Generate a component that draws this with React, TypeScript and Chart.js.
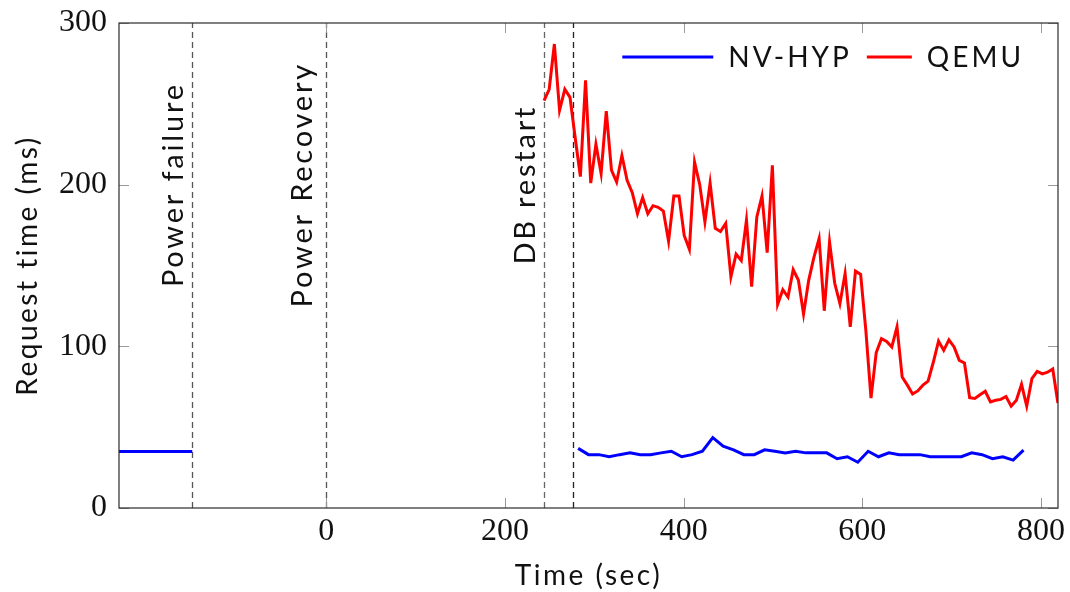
import { useEffect, useRef } from "react";
import { Chart, registerables } from "chart.js";

Chart.register(...registerables);

// Axis ticks
const xTickValues = [0, 200, 400, 600, 800];
const yTickValues = [0, 100, 200, 300];
const xMin = -232;
const xMax = 819;

// NV-HYP before the power failure
const nvHypPreX = [-232, -150];
const nvHypPreY = [35, 35];

// NV-HYP after the restart
const nvHypX = [
  281.9, 293.5, 305.1, 316.7, 328.3, 339.9, 351.4, 363.0, 374.6, 386.2, 397.8,
  409.4, 421.0, 432.6, 444.2, 455.8, 467.4, 479.0, 490.6, 502.1, 513.7, 525.3,
  536.9, 548.5, 560.1, 571.7, 583.3, 594.9, 606.5, 618.1, 629.7, 641.2, 652.8,
  664.4, 676.0, 687.6, 699.2, 710.8, 722.4, 734.0, 745.6, 757.2, 768.8, 780.4,
];
const nvHypY = [
  36.9, 33.0, 33.0, 31.7, 33.0, 34.1, 33.0, 33.0, 34.1, 35.1, 31.7, 33.0, 35.1,
  43.5, 38.2, 36.0, 33.0, 33.0, 36.0, 35.1, 34.1, 35.1, 34.1, 34.1, 34.1, 30.5,
  31.7, 28.3, 35.1, 31.7, 34.1, 33.0, 33.0, 33.0, 31.7, 31.7, 31.7, 31.7, 34.1,
  33.0, 30.5, 31.7, 29.6, 35.8,
];

// QEMU after the DB restart
const qemuX = [
  243.7, 249.5, 255.3, 261.1, 267.0, 272.8, 278.6, 284.4, 290.2, 296.0, 301.8,
  307.6, 313.4, 319.2, 325.0, 330.9, 336.7, 342.5, 348.3, 354.1, 359.9, 365.7,
  371.5, 377.3, 383.1, 389.0, 394.8, 400.6, 406.4, 412.2, 418.0, 423.8, 429.6,
  435.4, 441.2, 447.1, 452.9, 458.7, 464.5, 470.3, 476.1, 481.9, 487.7, 493.5,
  499.3, 505.2, 511.0, 516.8, 522.6, 528.4, 534.2, 540.0, 545.8, 551.6, 557.4,
  563.3, 569.1, 574.9, 580.7, 586.5, 592.3, 598.1, 603.9, 609.7, 615.5, 621.4,
  627.2, 633.0, 638.8, 644.6, 650.4, 656.2, 662.0, 667.8, 673.6, 679.5, 685.3,
  691.1, 696.9, 702.7, 708.5, 714.3, 720.1, 725.9, 731.7, 737.6, 743.4, 749.2,
  755.0, 760.8, 766.6, 772.4, 778.2, 784.0, 789.8, 795.7, 801.5, 807.3, 813.1,
  818.9,
];
const qemuY = [
  252, 259, 287, 246, 259, 254, 229, 205, 264.5, 201, 225, 207, 245.5, 209, 201.6,
  218, 202.7, 195, 182, 192, 182, 187, 186, 183.7, 165, 193, 193, 168.6, 160, 214,
  200, 177, 201, 173, 171, 176, 143, 157, 153, 178, 137, 180, 193, 158, 212, 126,
  135, 130.5, 147.4, 141, 120, 141, 155, 166.6, 122, 164.5, 139, 126.4, 145, 112,
  146.6, 144.5, 110, 68, 96, 104.7, 103, 99.6, 112, 81, 76, 70.5, 72.4, 76, 78.5,
  90.3, 103.3, 97.5, 104, 99.6, 91.3, 89.7, 68.2, 67.8, 70, 72.2, 65.6, 66.6, 67.2,
  69, 63, 66.6, 76.5, 63, 80, 84.5, 83, 84, 86, 65,
];

// Vertical event markers
const eventX = [-150, 0, 244, 276];
const eventLabels = ["Power failure", "Power Recovery", "DB restart", ""];
const eventColors = ["#555555", "#555555", "#666666", "#222222"];
const eventLabelY = 200;

const seriesNames = ["NV-HYP", "QEMU"];
const seriesColors = ["#0000ff", "#ff0000"];

const labelFont = "28px Lato";
const eventFont = "29px Lato";
const tickFont = "Liberation Serif";

function zip(xs: number[], ys: number[]) {
  return xs.map((x, i) => ({ x, y: ys[i] }));
}

const decorPlugin = {
  id: "decor",
  beforeDatasetsDraw(chart: any) {
    const { ctx, chartArea: a, scales } = chart;
    const x = scales.x;
    const y = scales.y;
    ctx.save();
    eventX.forEach((v, i) => {
      const px = Math.round(x.getPixelForValue(v)) + 0.5;
      ctx.strokeStyle = eventColors[i];
      ctx.lineWidth = 1.3;
      ctx.setLineDash([6, 4]);
      ctx.beginPath();
      ctx.moveTo(px, a.bottom);
      ctx.lineTo(px, a.top);
      ctx.stroke();
      const label = eventLabels[i];
      if (label) {
        ctx.setLineDash([]);
        ctx.font = eventFont;
        (ctx as any).letterSpacing = "2.8px";
        ctx.fillStyle = "#111";
        const m = ctx.measureText(label);
        const descent = m.actualBoundingBoxDescent > 2 ? m.actualBoundingBoxDescent : 0;
        ctx.save();
        ctx.translate(px - 10 - descent, y.getPixelForValue(eventLabelY));
        ctx.rotate(-Math.PI / 2);
        ctx.textAlign = "center";
        ctx.textBaseline = "alphabetic";
        ctx.fillText(label, 0, 0);
        ctx.restore();
      }
    });
    ctx.restore();
  },
  afterDraw(chart: any) {
    const { ctx, chartArea: a, scales } = chart;
    const x = scales.x;
    const y = scales.y;
    ctx.save();
    // inward ticks on all four sides
    ctx.strokeStyle = "#9a9a9a";
    ctx.lineWidth = 1;
    ctx.setLineDash([]);
    const tick = 10;
    xTickValues.forEach((v) => {
      const px = Math.round(x.getPixelForValue(v)) + 0.5;
      ctx.beginPath();
      ctx.moveTo(px, a.bottom);
      ctx.lineTo(px, a.bottom - tick);
      ctx.moveTo(px, a.top);
      ctx.lineTo(px, a.top + tick);
      ctx.stroke();
    });
    yTickValues.forEach((v) => {
      const py = Math.round(y.getPixelForValue(v)) + 0.5;
      ctx.beginPath();
      ctx.moveTo(a.left, py);
      ctx.lineTo(a.left + tick, py);
      ctx.moveTo(a.right, py);
      ctx.lineTo(a.right - tick, py);
      ctx.stroke();
    });
    // frame
    ctx.strokeStyle = "#2a2a2a";
    ctx.lineWidth = 1.2;
    ctx.strokeRect(a.left, a.top, a.right - a.left, a.bottom - a.top);

    // axis titles
    ctx.fillStyle = "#111";
    ctx.font = labelFont;
    (ctx as any).letterSpacing = "2.5px";
    ctx.textAlign = "center";
    ctx.textBaseline = "middle";
    ctx.fillText("Time (sec)", (a.left + a.right) / 2, 576);
    ctx.save();
    ctx.translate(28, (a.top + a.bottom) / 2);
    ctx.rotate(-Math.PI / 2);
    ctx.fillText("Request time (ms)", 0, 0);
    ctx.restore();

    // legend
    (ctx as any).letterSpacing = "3px";
    const lineLens = [91, 45];
    const gapLineText = 15;
    const gapItems = 15;
    const widths = seriesNames.map((n) => ctx.measureText(n).width);
    let total = 0;
    seriesNames.forEach((_, i) => {
      total += lineLens[i] + gapLineText + widths[i];
      if (i < seriesNames.length - 1) total += gapItems;
    });
    let cx = a.right - 34 - total;
    const ly = 57;
    ctx.textAlign = "left";
    seriesNames.forEach((n, i) => {
      ctx.strokeStyle = seriesColors[i];
      ctx.lineWidth = 3;
      ctx.beginPath();
      ctx.moveTo(cx, ly);
      ctx.lineTo(cx + lineLens[i], ly);
      ctx.stroke();
      cx += lineLens[i] + gapLineText;
      ctx.fillStyle = "#111";
      ctx.fillText(n, cx, ly + 1);
      cx += widths[i] + gapItems;
    });
    ctx.restore();
  },
};

export default function App() {
  const canvasRef = useRef<HTMLCanvasElement | null>(null);

  useEffect(() => {
    if (!canvasRef.current) return;
    const nvHypData: any[] = [
      ...zip(nvHypPreX, nvHypPreY),
      { x: 60, y: null },
      ...zip(nvHypX, nvHypY),
    ];
    const chart = new Chart(canvasRef.current, {
      type: "line",
      data: {
        datasets: [
          {
            label: seriesNames[0],
            data: nvHypData,
            borderColor: seriesColors[0],
            borderWidth: 3,
            pointRadius: 0,
            tension: 0,
            spanGaps: false,
          },
          {
            label: seriesNames[1],
            data: zip(qemuX, qemuY),
            borderColor: seriesColors[1],
            borderWidth: 3,
            pointRadius: 0,
            tension: 0,
          },
        ],
      },
      options: {
        animation: false,
        responsive: false,
        devicePixelRatio: 1,
        layout: { padding: { top: 23, right: 12, left: 0, bottom: 0 } },
        plugins: { legend: { display: false }, tooltip: { enabled: false } },
        scales: {
          x: {
            type: "linear",
            min: xMin,
            max: xMax,
            afterBuildTicks: (s: any) => {
              s.ticks = xTickValues.map((v) => ({ value: v }));
            },
            afterFit: (s: any) => {
              s.height = 84;
              s.paddingLeft = 0;
              s.paddingRight = 0;
            },
            grid: { display: false, drawTicks: false },
            border: { display: false },
            ticks: {
              font: { family: tickFont, size: 32 },
              color: "#111",
              padding: 4,
              maxRotation: 0,
              autoSkip: false,
            },
          },
          y: {
            type: "linear",
            min: 0,
            max: 300,
            afterBuildTicks: (s: any) => {
              s.ticks = yTickValues.map((v) => ({ value: v }));
            },
            afterFit: (s: any) => {
              s.width = 119;
              s.paddingTop = 0;
              s.paddingBottom = 0;
            },
            grid: { display: false, drawTicks: false },
            border: { display: false },
            ticks: {
              font: { family: tickFont, size: 32 },
              color: "#111",
              padding: 12,
              autoSkip: false,
            },
          },
        },
      },
      plugins: [decorPlugin],
    });
    return () => chart.destroy();
  }, []);

  return (
    <div
      style={{
        position: "fixed",
        left: 0,
        top: 0,
        width: 1070,
        height: 592,
        background: "#fff",
      }}
    >
      <canvas ref={canvasRef} width={1070} height={592} style={{ display: "block" }} />
    </div>
  );
}
